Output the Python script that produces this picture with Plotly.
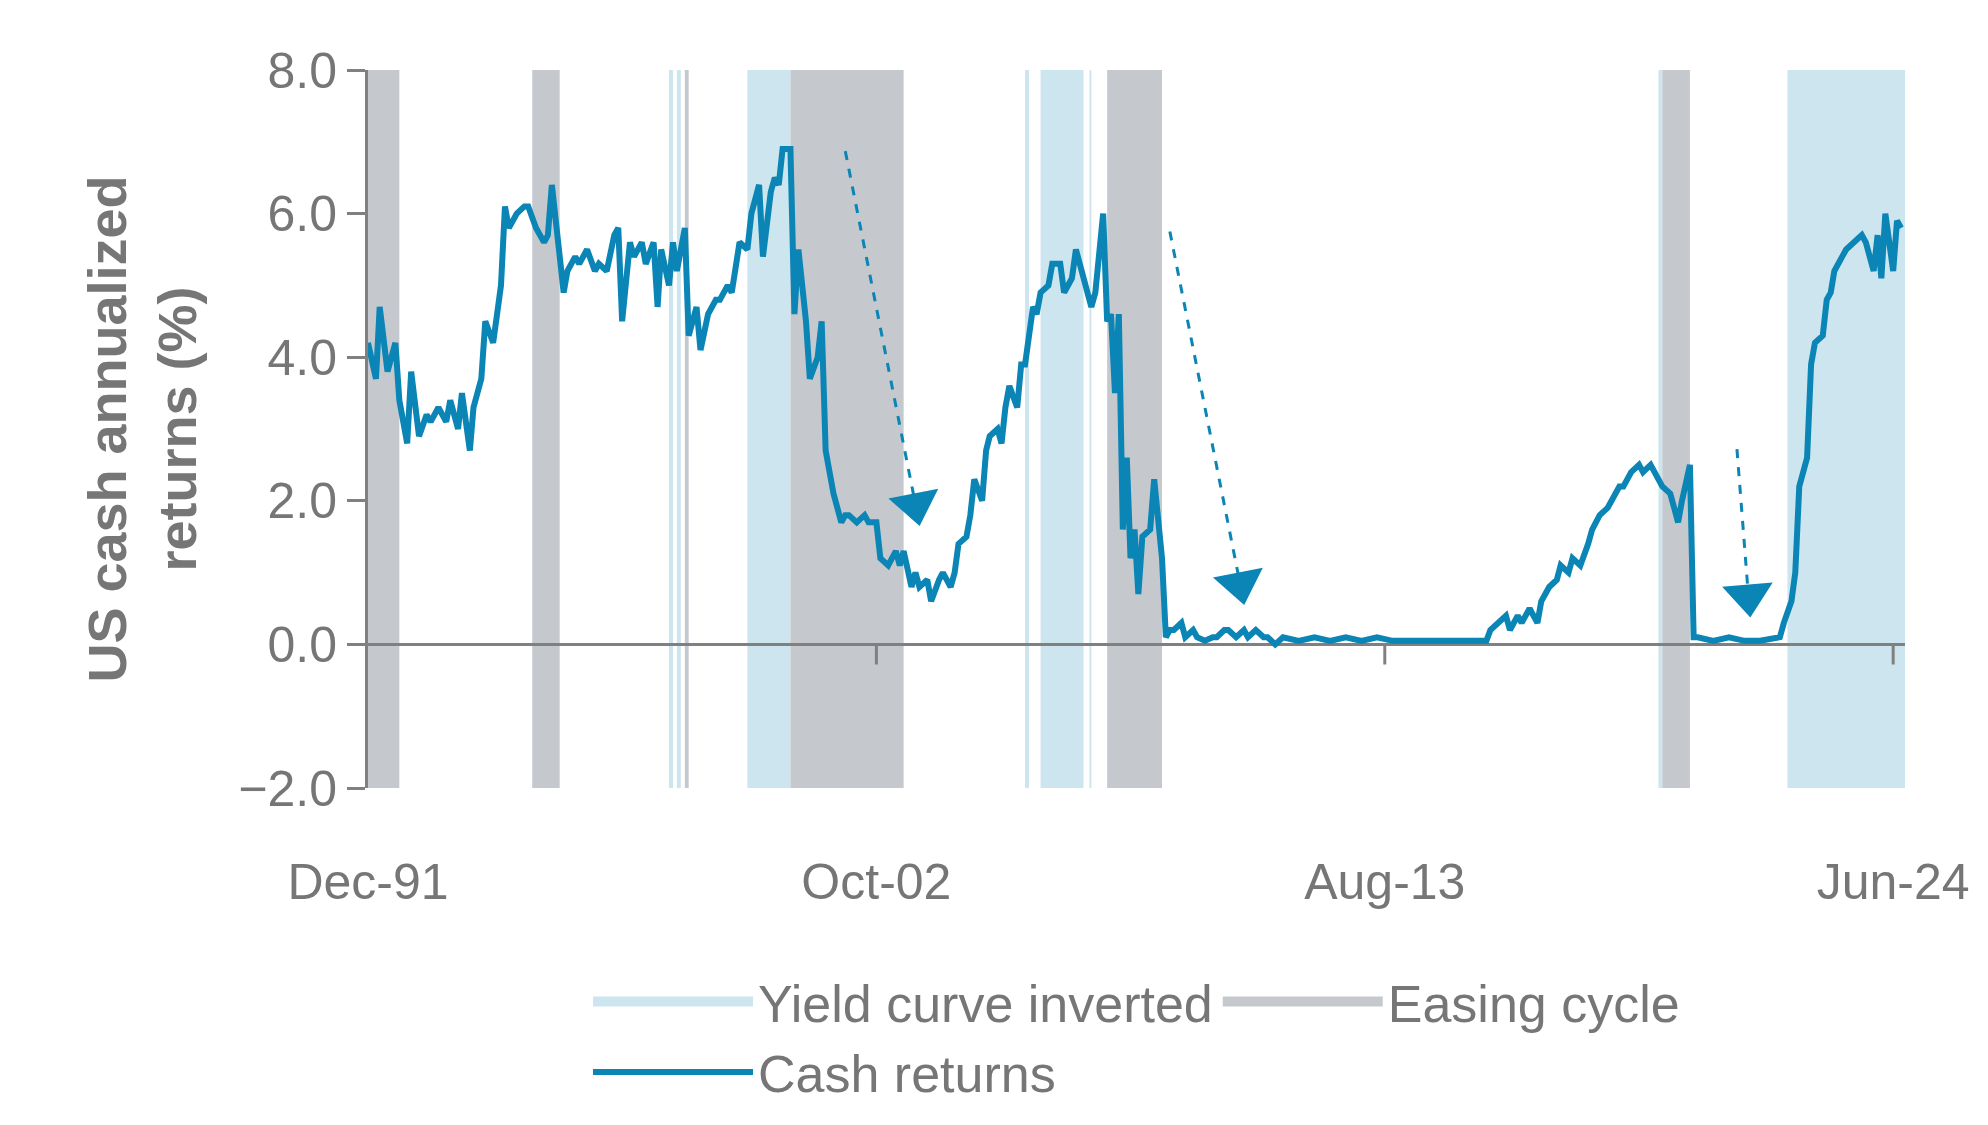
import plotly.graph_objects as go
import pandas as pd

# months since Dec-1991
months = [0,2,3,5,7,8,10,11,13,15,16,18,20,21,23,24,26,27,29,30,32,33,34,35,36,38,40,41,43,45,46,47,49,50,51,53,54,56,58,59,61,63,64,65,67,68,70,71,73,74,75,77,78,79,81,82,84,85,87,89,90,92,93,95,97,98,100,101,103,104,105,106,108,109,110,112,113,115,116,117,119,121,122,123,125,127,128,130,131,133,135,136,137,139,140,141,143,144,146,147,149,150,151,153,154,155,157,158,159,161,162,163,164,166,167,168,170,171,172,174,175,177,178,180,181,183,185,186,188,189,190,191,192,193,194,195,196,197,198,200,201,203,204,205,206,208,209,211,212,214,216,217,219,220,222,224,225,227,229,230,232,234,238,242,246,250,254,258,262,266,270,274,278,282,286,287,289,291,292,294,295,297,299,300,302,304,305,307,308,310,312,313,315,317,318,320,321,323,325,326,328,330,331,333,335,336,338,339,340,344,348,352,356,361,362,364,365,366,368,369,370,372,373,374,375,377,378,380,382,383,385,386,387,388,390,391,392]
returns = [4.2,3.7,4.7,3.8,4.2,3.4,2.8,3.8,2.9,3.2,3.1,3.3,3.1,3.4,3.0,3.5,2.7,3.3,3.7,4.5,4.2,4.7,5.0,6.1,5.8,6.0,6.1,6.1,5.8,5.6,5.7,6.4,5.4,4.9,5.2,5.4,5.3,5.5,5.2,5.3,5.2,5.7,5.8,4.5,5.6,5.4,5.6,5.3,5.6,4.7,5.5,5.0,5.6,5.2,5.8,4.3,4.7,4.1,4.6,4.8,4.8,5.0,4.9,5.6,5.5,6.0,6.4,5.4,6.3,6.5,6.4,6.9,6.9,4.6,5.5,4.5,3.7,4.0,4.5,2.7,2.1,1.7,1.8,1.8,1.7,1.8,1.7,1.7,1.2,1.1,1.3,1.1,1.3,0.8,1.0,0.8,0.9,0.6,0.9,1.0,0.8,1.0,1.4,1.5,1.8,2.3,2.0,2.7,2.9,3.0,2.8,3.3,3.6,3.3,3.9,3.9,4.7,4.6,4.9,5.0,5.3,5.3,4.9,5.1,5.5,5.1,4.7,4.9,6.0,4.5,4.6,3.5,4.6,1.6,2.6,1.2,1.6,0.7,1.5,1.6,2.3,1.2,0.1,0.2,0.2,0.3,0.1,0.2,0.1,0.05,0.1,0.1,0.2,0.2,0.1,0.2,0.1,0.2,0.1,0.1,0.0,0.1,0.05,0.1,0.05,0.1,0.05,0.1,0.05,0.05,0.05,0.05,0.05,0.05,0.05,0.2,0.3,0.4,0.2,0.4,0.3,0.5,0.3,0.6,0.8,0.9,1.1,1.0,1.2,1.1,1.4,1.6,1.8,1.9,2.0,2.2,2.2,2.4,2.5,2.4,2.5,2.3,2.2,2.1,1.7,2.0,2.5,0.1,0.1,0.05,0.1,0.05,0.05,0.1,0.3,0.6,1.0,2.2,2.6,3.9,4.2,4.3,4.8,4.9,5.2,5.4,5.5,5.6,5.7,5.6,5.2,5.7,5.1,6.0,5.2,5.9,5.8]

easing = [(0,8),(42,49),(81,82),(108,137),(189,203),(331,338)]
inverted = [(77,78),(79,80),(97,108),(168,169),(172,183),(184.5,185),(330,331),(363,393)]
tick_months = [0,130,260,390]
tick_labels = ["Dec-91","Oct-02","Aug-13","Jun-24"]
arrows = [((122,6.87),(140,1.95)),((205,5.75),(223,0.85)),((350,2.72),(353,0.68))]
arrow_angles = [-11, -11, -5]

base = pd.Timestamp("1991-12-01")
def d(m):
    whole = int(m)
    t = base + pd.DateOffset(months=whole)
    return t + (m - whole) * pd.Timedelta(days=30.4)

BLUE = "#0A85B5"; INV = "#CDE5EE"; EAS = "#C5C9CE"; GREY = "#767676"
fig = go.Figure()
shapes = []
for a, b in inverted:
    shapes.append(dict(type="rect", xref="x", yref="y", x0=d(a), x1=d(b), y0=-2, y1=8, fillcolor=INV, line_width=0, layer="below"))
for a, b in easing:
    shapes.append(dict(type="rect", xref="x", yref="y", x0=d(a), x1=d(b), y0=-2, y1=8, fillcolor=EAS, line_width=0, layer="below"))
shapes.append(dict(type="line", xref="x", yref="y", x0=d(0), x1=d(393), y0=0, y1=0, line=dict(color="#808080", width=3), layer="below"))
for m in tick_months[1:]:
    shapes.append(dict(type="line", xref="x", yref="y", x0=d(m), x1=d(m), y0=0, y1=-0.28, line=dict(color="#808080", width=3)))
for (m0, v0), (m1, v1) in arrows:
    shapes.append(dict(type="line", xref="x", yref="y", x0=d(m0), x1=d(m1), y0=v0, y1=v1, line=dict(color=BLUE, width=3, dash="dash")))
fig.update_layout(shapes=shapes)

for (start, end), ang in zip(arrows, arrow_angles):
    fig.add_trace(go.Scatter(x=[d(end[0])], y=[end[1]], mode="markers", showlegend=False, hoverinfo="skip",
                             marker=dict(symbol="triangle-down", size=44, angle=ang, color=BLUE)))

fig.add_trace(go.Scatter(x=[None], y=[None], mode="lines", name="Yield curve inverted", line=dict(color=INV, width=28)))
fig.add_trace(go.Scatter(x=[None], y=[None], mode="lines", name="Easing cycle", line=dict(color=EAS, width=28)))
fig.add_trace(go.Scatter(x=[d(m) for m in months], y=returns, mode="lines", name="Cash returns", line=dict(color=BLUE, width=6)))

fig.update_layout(
    width=1988, height=1125, plot_bgcolor="white", paper_bgcolor="white",
    margin=dict(l=360, r=91, t=62, b=345),
    font=dict(family="Liberation Sans, Arial", color=GREY, size=50),
    xaxis=dict(range=[d(0), d(393)], tickvals=[d(m) for m in tick_months], ticktext=tick_labels,
               showgrid=False, showline=False, ticks="", ticklabelstandoff=60, zeroline=False),
    yaxis=dict(range=[-2, 8], tickvals=[-2, 0, 2, 4, 6, 8], tickformat=".1f", showgrid=False, zeroline=False,
               showline=True, linecolor="#808080", linewidth=3, ticks="outside", ticklen=18, tickwidth=3, tickcolor="#808080",
               title=dict(text="<b>US cash annualized<br>returns (%)</b>", font=dict(size=54, color=GREY), standoff=25)),
    legend=dict(orientation="h", x=0.5, xanchor="center", y=-0.347, yanchor="middle", font=dict(size=52), itemwidth=160),
)
fig.write_html("out.html")
